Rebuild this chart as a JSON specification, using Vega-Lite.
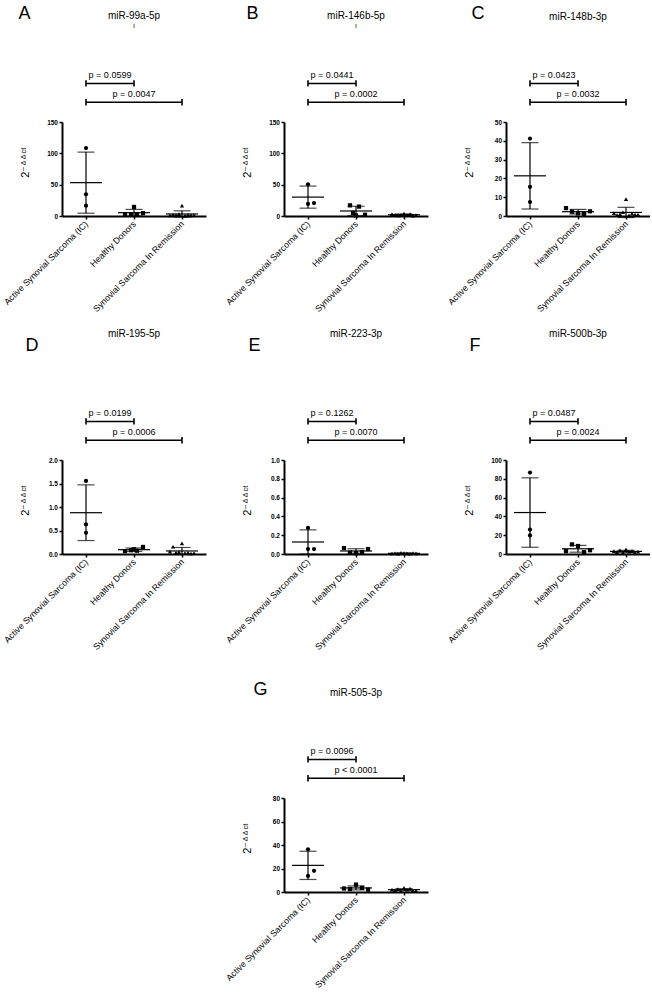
{
  "$schema": "https://vega.github.io/schema/vega-lite/v6.json",
  "background": "white",
  "padding": {"left": 2, "top": 4, "right": 0, "bottom": 0},
  "columns": 3,
  "bounds": "flush",
  "spacing": {"row": 244, "column": 78},
  "datasets": {
    "pts": [
      {"panel": "A", "group": "Active Synovial Sarcoma (IC)", "value": 108.5, "slot": 0},
      {"panel": "A", "group": "Active Synovial Sarcoma (IC)", "value": 34.6, "slot": 0},
      {"panel": "A", "group": "Active Synovial Sarcoma (IC)", "value": 16.5, "slot": 0},
      {"panel": "A", "group": "Healthy Donors", "value": 14.5, "slot": 0},
      {"panel": "A", "group": "Healthy Donors", "value": 2.5, "slot": -3},
      {"panel": "A", "group": "Healthy Donors", "value": 2.0, "slot": -1},
      {"panel": "A", "group": "Healthy Donors", "value": 3.0, "slot": 1},
      {"panel": "A", "group": "Healthy Donors", "value": 4.5, "slot": 3},
      {"panel": "A", "group": "Synovial Sarcoma In Remission", "value": 16.5, "slot": 0},
      {"panel": "A", "group": "Synovial Sarcoma In Remission", "value": 1.0, "slot": -4},
      {"panel": "A", "group": "Synovial Sarcoma In Remission", "value": 2.0, "slot": -3},
      {"panel": "A", "group": "Synovial Sarcoma In Remission", "value": 1.5, "slot": -2},
      {"panel": "A", "group": "Synovial Sarcoma In Remission", "value": 3.0, "slot": -1},
      {"panel": "A", "group": "Synovial Sarcoma In Remission", "value": 0.5, "slot": 1},
      {"panel": "A", "group": "Synovial Sarcoma In Remission", "value": 2.0, "slot": 2},
      {"panel": "A", "group": "Synovial Sarcoma In Remission", "value": 1.0, "slot": 3},
      {"panel": "A", "group": "Synovial Sarcoma In Remission", "value": 1.5, "slot": 4},

      {"panel": "B", "group": "Active Synovial Sarcoma (IC)", "value": 50.5, "slot": 0},
      {"panel": "B", "group": "Active Synovial Sarcoma (IC)", "value": 19.2, "slot": 0},
      {"panel": "B", "group": "Active Synovial Sarcoma (IC)", "value": 20.7, "slot": 2},
      {"panel": "B", "group": "Healthy Donors", "value": 17, "slot": -2},
      {"panel": "B", "group": "Healthy Donors", "value": 15, "slot": 1},
      {"panel": "B", "group": "Healthy Donors", "value": 5, "slot": -1},
      {"panel": "B", "group": "Healthy Donors", "value": 2, "slot": 3},
      {"panel": "B", "group": "Healthy Donors", "value": 1, "slot": 0},
      {"panel": "B", "group": "Synovial Sarcoma In Remission", "value": 4, "slot": 0},
      {"panel": "B", "group": "Synovial Sarcoma In Remission", "value": 3, "slot": -4},
      {"panel": "B", "group": "Synovial Sarcoma In Remission", "value": 2, "slot": -3},
      {"panel": "B", "group": "Synovial Sarcoma In Remission", "value": 1, "slot": -2},
      {"panel": "B", "group": "Synovial Sarcoma In Remission", "value": 2, "slot": -1},
      {"panel": "B", "group": "Synovial Sarcoma In Remission", "value": 1.5, "slot": 1},
      {"panel": "B", "group": "Synovial Sarcoma In Remission", "value": 3, "slot": 2},
      {"panel": "B", "group": "Synovial Sarcoma In Remission", "value": 0.5, "slot": 3},
      {"panel": "B", "group": "Synovial Sarcoma In Remission", "value": 1.5, "slot": 4},

      {"panel": "C", "group": "Active Synovial Sarcoma (IC)", "value": 41.2, "slot": 0},
      {"panel": "C", "group": "Active Synovial Sarcoma (IC)", "value": 15.5, "slot": 0},
      {"panel": "C", "group": "Active Synovial Sarcoma (IC)", "value": 7.4, "slot": 0},
      {"panel": "C", "group": "Healthy Donors", "value": 4.2, "slot": -4},
      {"panel": "C", "group": "Healthy Donors", "value": 2.3, "slot": -2},
      {"panel": "C", "group": "Healthy Donors", "value": 1.4, "slot": 0},
      {"panel": "C", "group": "Healthy Donors", "value": 1.1, "slot": 2},
      {"panel": "C", "group": "Healthy Donors", "value": 2.5, "slot": 4},
      {"panel": "C", "group": "Synovial Sarcoma In Remission", "value": 9.0, "slot": 0},
      {"panel": "C", "group": "Synovial Sarcoma In Remission", "value": 1.5, "slot": -4},
      {"panel": "C", "group": "Synovial Sarcoma In Remission", "value": 0.5, "slot": -3},
      {"panel": "C", "group": "Synovial Sarcoma In Remission", "value": 1.0, "slot": -2},
      {"panel": "C", "group": "Synovial Sarcoma In Remission", "value": 2.0, "slot": -1},
      {"panel": "C", "group": "Synovial Sarcoma In Remission", "value": 0.3, "slot": 1},
      {"panel": "C", "group": "Synovial Sarcoma In Remission", "value": 1.2, "slot": 2},
      {"panel": "C", "group": "Synovial Sarcoma In Remission", "value": 0.8, "slot": 3},
      {"panel": "C", "group": "Synovial Sarcoma In Remission", "value": 0.8, "slot": 4},

      {"panel": "D", "group": "Active Synovial Sarcoma (IC)", "value": 1.555, "slot": 0},
      {"panel": "D", "group": "Active Synovial Sarcoma (IC)", "value": 0.629, "slot": 0},
      {"panel": "D", "group": "Active Synovial Sarcoma (IC)", "value": 0.452, "slot": 0},
      {"panel": "D", "group": "Healthy Donors", "value": 0.15, "slot": 3},
      {"panel": "D", "group": "Healthy Donors", "value": 0.10, "slot": 0},
      {"panel": "D", "group": "Healthy Donors", "value": 0.06, "slot": -3},
      {"panel": "D", "group": "Healthy Donors", "value": 0.08, "slot": -1},
      {"panel": "D", "group": "Healthy Donors", "value": 0.07, "slot": 1},
      {"panel": "D", "group": "Synovial Sarcoma In Remission", "value": 0.226, "slot": 0},
      {"panel": "D", "group": "Synovial Sarcoma In Remission", "value": 0.155, "slot": -3},
      {"panel": "D", "group": "Synovial Sarcoma In Remission", "value": 0.05, "slot": -4},
      {"panel": "D", "group": "Synovial Sarcoma In Remission", "value": 0.03, "slot": -2},
      {"panel": "D", "group": "Synovial Sarcoma In Remission", "value": 0.04, "slot": -1},
      {"panel": "D", "group": "Synovial Sarcoma In Remission", "value": 0.02, "slot": 1},
      {"panel": "D", "group": "Synovial Sarcoma In Remission", "value": 0.03, "slot": 2},
      {"panel": "D", "group": "Synovial Sarcoma In Remission", "value": 0.01, "slot": 3},
      {"panel": "D", "group": "Synovial Sarcoma In Remission", "value": 0.02, "slot": 4},

      {"panel": "E", "group": "Active Synovial Sarcoma (IC)", "value": 0.277, "slot": 0},
      {"panel": "E", "group": "Active Synovial Sarcoma (IC)", "value": 0.053, "slot": 0},
      {"panel": "E", "group": "Active Synovial Sarcoma (IC)", "value": 0.053, "slot": 2},
      {"panel": "E", "group": "Healthy Donors", "value": 0.063, "slot": -4},
      {"panel": "E", "group": "Healthy Donors", "value": 0.015, "slot": -2},
      {"panel": "E", "group": "Healthy Donors", "value": 0.010, "slot": 0},
      {"panel": "E", "group": "Healthy Donors", "value": 0.020, "slot": 2},
      {"panel": "E", "group": "Healthy Donors", "value": 0.053, "slot": 4},
      {"panel": "E", "group": "Synovial Sarcoma In Remission", "value": 0.010, "slot": 0},
      {"panel": "E", "group": "Synovial Sarcoma In Remission", "value": 0.005, "slot": -4},
      {"panel": "E", "group": "Synovial Sarcoma In Remission", "value": 0.008, "slot": -3},
      {"panel": "E", "group": "Synovial Sarcoma In Remission", "value": 0.004, "slot": -2},
      {"panel": "E", "group": "Synovial Sarcoma In Remission", "value": 0.012, "slot": -1},
      {"panel": "E", "group": "Synovial Sarcoma In Remission", "value": 0.006, "slot": 1},
      {"panel": "E", "group": "Synovial Sarcoma In Remission", "value": 0.003, "slot": 2},
      {"panel": "E", "group": "Synovial Sarcoma In Remission", "value": 0.009, "slot": 3},
      {"panel": "E", "group": "Synovial Sarcoma In Remission", "value": 0.007, "slot": 4},

      {"panel": "F", "group": "Active Synovial Sarcoma (IC)", "value": 86.6, "slot": 0},
      {"panel": "F", "group": "Active Synovial Sarcoma (IC)", "value": 26.0, "slot": 0},
      {"panel": "F", "group": "Active Synovial Sarcoma (IC)", "value": 19.7, "slot": 0},
      {"panel": "F", "group": "Healthy Donors", "value": 10.2, "slot": -2},
      {"panel": "F", "group": "Healthy Donors", "value": 8.5, "slot": 0},
      {"panel": "F", "group": "Healthy Donors", "value": 3.0, "slot": -4},
      {"panel": "F", "group": "Healthy Donors", "value": 2.0, "slot": 2},
      {"panel": "F", "group": "Healthy Donors", "value": 4.0, "slot": 4},
      {"panel": "F", "group": "Synovial Sarcoma In Remission", "value": 5.0, "slot": 0},
      {"panel": "F", "group": "Synovial Sarcoma In Remission", "value": 3.0, "slot": -4},
      {"panel": "F", "group": "Synovial Sarcoma In Remission", "value": 2.0, "slot": -3},
      {"panel": "F", "group": "Synovial Sarcoma In Remission", "value": 4.0, "slot": -2},
      {"panel": "F", "group": "Synovial Sarcoma In Remission", "value": 1.5, "slot": -1},
      {"panel": "F", "group": "Synovial Sarcoma In Remission", "value": 2.5, "slot": 1},
      {"panel": "F", "group": "Synovial Sarcoma In Remission", "value": 3.0, "slot": 2},
      {"panel": "F", "group": "Synovial Sarcoma In Remission", "value": 1.5, "slot": 3},
      {"panel": "F", "group": "Synovial Sarcoma In Remission", "value": 2.5, "slot": 4},

      {"panel": "G", "group": "Active Synovial Sarcoma (IC)", "value": 36.3, "slot": 0},
      {"panel": "G", "group": "Active Synovial Sarcoma (IC)", "value": 18.0, "slot": 2},
      {"panel": "G", "group": "Active Synovial Sarcoma (IC)", "value": 13.7, "slot": 0},
      {"panel": "G", "group": "Healthy Donors", "value": 6.3, "slot": 0},
      {"panel": "G", "group": "Healthy Donors", "value": 3.0, "slot": -4},
      {"panel": "G", "group": "Healthy Donors", "value": 2.5, "slot": -2},
      {"panel": "G", "group": "Healthy Donors", "value": 3.5, "slot": 2},
      {"panel": "G", "group": "Healthy Donors", "value": 2.0, "slot": 4},
      {"panel": "G", "group": "Synovial Sarcoma In Remission", "value": 3.5, "slot": 0},
      {"panel": "G", "group": "Synovial Sarcoma In Remission", "value": 2.0, "slot": -4},
      {"panel": "G", "group": "Synovial Sarcoma In Remission", "value": 1.5, "slot": -3},
      {"panel": "G", "group": "Synovial Sarcoma In Remission", "value": 2.5, "slot": -2},
      {"panel": "G", "group": "Synovial Sarcoma In Remission", "value": 1.0, "slot": -1},
      {"panel": "G", "group": "Synovial Sarcoma In Remission", "value": 2.0, "slot": 1},
      {"panel": "G", "group": "Synovial Sarcoma In Remission", "value": 3.0, "slot": 2},
      {"panel": "G", "group": "Synovial Sarcoma In Remission", "value": 1.5, "slot": 3},
      {"panel": "G", "group": "Synovial Sarcoma In Remission", "value": 1.0, "slot": 4}
    ],
    "brk": [
      {"panel": "A", "kind": "near", "from": "Active Synovial Sarcoma (IC)", "to": "Healthy Donors", "level": 211.5, "label": "p = 0.0599"},
      {"panel": "A", "kind": "far", "from": "Active Synovial Sarcoma (IC)", "to": "Synovial Sarcoma In Remission", "level": 181.5, "label": "p = 0.0047"},
      {"panel": "B", "kind": "near", "from": "Active Synovial Sarcoma (IC)", "to": "Healthy Donors", "level": 211.5, "label": "p = 0.0441"},
      {"panel": "B", "kind": "far", "from": "Active Synovial Sarcoma (IC)", "to": "Synovial Sarcoma In Remission", "level": 181.5, "label": "p = 0.0002"},
      {"panel": "C", "kind": "near", "from": "Active Synovial Sarcoma (IC)", "to": "Healthy Donors", "level": 70.5, "label": "p = 0.0423"},
      {"panel": "C", "kind": "far", "from": "Active Synovial Sarcoma (IC)", "to": "Synovial Sarcoma In Remission", "level": 60.5, "label": "p = 0.0032"},
      {"panel": "D", "kind": "near", "from": "Active Synovial Sarcoma (IC)", "to": "Healthy Donors", "level": 2.82, "label": "p = 0.0199"},
      {"panel": "D", "kind": "far", "from": "Active Synovial Sarcoma (IC)", "to": "Synovial Sarcoma In Remission", "level": 2.42, "label": "p = 0.0006"},
      {"panel": "E", "kind": "near", "from": "Active Synovial Sarcoma (IC)", "to": "Healthy Donors", "level": 1.41, "label": "p = 0.1262"},
      {"panel": "E", "kind": "far", "from": "Active Synovial Sarcoma (IC)", "to": "Synovial Sarcoma In Remission", "level": 1.21, "label": "p = 0.0070"},
      {"panel": "F", "kind": "near", "from": "Active Synovial Sarcoma (IC)", "to": "Healthy Donors", "level": 141, "label": "p = 0.0487"},
      {"panel": "F", "kind": "far", "from": "Active Synovial Sarcoma (IC)", "to": "Synovial Sarcoma In Remission", "level": 121, "label": "p = 0.0024"},
      {"panel": "G", "kind": "near", "from": "Active Synovial Sarcoma (IC)", "to": "Healthy Donors", "level": 112.8, "label": "p = 0.0096"},
      {"panel": "G", "kind": "far", "from": "Active Synovial Sarcoma (IC)", "to": "Synovial Sarcoma In Remission", "level": 96.8, "label": "p < 0.0001"}
    ]
  },
  "concat": [
    {
      "width": 144, "height": 94,
      "title": {"text": "miR-99a-5p", "subtitle": "ı", "offset": -24},
      "layer": [
        {"data": {"name": "pts"}, "transform": [{"filter": "datum.panel === 'A'"}],
         "mark": {"type": "point"},
         "encoding": {
           "x": {"field": "group", "type": "nominal", "scale": {"type": "point", "padding": 0.5, "domain": ["Active Synovial Sarcoma (IC)", "Healthy Donors", "Synovial Sarcoma In Remission"]}, "axis": {"title": "A", "titleX": -44, "titleY": -197.5}},
           "xOffset": {"field": "slot", "type": "quantitative", "scale": {"domain": [-4, 4], "range": [-12, 12]}},
           "y": {"field": "value", "type": "quantitative", "title": "2⁻ᐞᐞᶜᵗ", "scale": {"domain": [0, 150], "nice": false}, "axis": {"values": [0, 50, 100, 150], "tickCount": 10}},
           "shape": {"field": "group", "type": "nominal", "scale": {"domain": ["Active Synovial Sarcoma (IC)", "Healthy Donors", "Synovial Sarcoma In Remission"], "range": ["circle", "square", "triangle-up"]}, "legend": null}
         }},
        {"data": {"name": "pts"}, "transform": [{"filter": "datum.panel === 'A'"}],
         "mark": {"type": "errorbar", "extent": "stdev", "thickness": 1.2, "ticks": {"size": 17}, "color": "black"},
         "encoding": {"x": {"field": "group", "type": "nominal"}, "y": {"field": "value", "type": "quantitative", "title": "2⁻ᐞᐞᶜᵗ", "axis": {"values": [0, 50, 100, 150], "tickCount": 10}}}},
        {"data": {"name": "pts"}, "transform": [{"filter": "datum.panel === 'A'"}],
         "mark": {"type": "tick", "size": 32, "thickness": 1.2},
         "encoding": {"x": {"field": "group", "type": "nominal"}, "y": {"aggregate": "mean", "field": "value", "type": "quantitative"}}},
        {"data": {"name": "brk"}, "transform": [{"filter": "datum.panel === 'A'"}],
         "mark": {"type": "rule", "strokeWidth": 1.6},
         "encoding": {"x": {"field": "from", "type": "nominal"}, "x2": {"field": "to"}, "y": {"field": "level", "type": "quantitative"}}},
        {"data": {"name": "brk"}, "transform": [{"filter": "datum.panel === 'A'"}, {"fold": ["from", "to"], "as": ["end", "grp"]}],
         "mark": {"type": "point", "shape": "M0,-1L0,1", "size": 40, "filled": false, "strokeWidth": 1.6},
         "encoding": {"x": {"field": "grp", "type": "nominal"}, "y": {"field": "level", "type": "quantitative"}}},
        {"data": {"name": "brk"}, "transform": [{"filter": "datum.panel === 'A' && datum.kind === 'near'"}],
         "mark": {"type": "text", "dx": 24, "dy": -3},
         "encoding": {"x": {"field": "from", "type": "nominal"}, "y": {"field": "level", "type": "quantitative"}, "text": {"field": "label"}}},
        {"data": {"name": "brk"}, "transform": [{"filter": "datum.panel === 'A' && datum.kind === 'far'"}],
         "mark": {"type": "text", "dx": 48, "dy": -3},
         "encoding": {"x": {"field": "from", "type": "nominal"}, "y": {"field": "level", "type": "quantitative"}, "text": {"field": "label"}}}
      ]
    },
    {
      "width": 144, "height": 94,
      "title": {"text": "miR-146b-5p", "subtitle": "ı", "offset": -24},
      "layer": [
        {"data": {"name": "pts"}, "transform": [{"filter": "datum.panel === 'B'"}],
         "mark": {"type": "point"},
         "encoding": {
           "x": {"field": "group", "type": "nominal", "scale": {"type": "point", "padding": 0.5, "domain": ["Active Synovial Sarcoma (IC)", "Healthy Donors", "Synovial Sarcoma In Remission"]}, "axis": {"title": "B", "titleX": -38, "titleY": -197.5}},
           "xOffset": {"field": "slot", "type": "quantitative", "scale": {"domain": [-4, 4], "range": [-12, 12]}},
           "y": {"field": "value", "type": "quantitative", "title": "2⁻ᐞᐞᶜᵗ", "scale": {"domain": [0, 150], "nice": false}, "axis": {"values": [0, 50, 100, 150], "tickCount": 10}},
           "shape": {"field": "group", "type": "nominal", "scale": {"domain": ["Active Synovial Sarcoma (IC)", "Healthy Donors", "Synovial Sarcoma In Remission"], "range": ["circle", "square", "triangle-up"]}, "legend": null}
         }},
        {"data": {"name": "pts"}, "transform": [{"filter": "datum.panel === 'B'"}],
         "mark": {"type": "errorbar", "extent": "stdev", "thickness": 1.2, "ticks": {"size": 17}, "color": "black"},
         "encoding": {"x": {"field": "group", "type": "nominal"}, "y": {"field": "value", "type": "quantitative", "title": "2⁻ᐞᐞᶜᵗ", "axis": {"values": [0, 50, 100, 150], "tickCount": 10}}}},
        {"data": {"name": "pts"}, "transform": [{"filter": "datum.panel === 'B'"}],
         "mark": {"type": "tick", "size": 32, "thickness": 1.2},
         "encoding": {"x": {"field": "group", "type": "nominal"}, "y": {"aggregate": "mean", "field": "value", "type": "quantitative"}}},
        {"data": {"name": "brk"}, "transform": [{"filter": "datum.panel === 'B'"}],
         "mark": {"type": "rule", "strokeWidth": 1.6},
         "encoding": {"x": {"field": "from", "type": "nominal"}, "x2": {"field": "to"}, "y": {"field": "level", "type": "quantitative"}}},
        {"data": {"name": "brk"}, "transform": [{"filter": "datum.panel === 'B'"}, {"fold": ["from", "to"], "as": ["end", "grp"]}],
         "mark": {"type": "point", "shape": "M0,-1L0,1", "size": 40, "filled": false, "strokeWidth": 1.6},
         "encoding": {"x": {"field": "grp", "type": "nominal"}, "y": {"field": "level", "type": "quantitative"}}},
        {"data": {"name": "brk"}, "transform": [{"filter": "datum.panel === 'B' && datum.kind === 'near'"}],
         "mark": {"type": "text", "dx": 24, "dy": -3},
         "encoding": {"x": {"field": "from", "type": "nominal"}, "y": {"field": "level", "type": "quantitative"}, "text": {"field": "label"}}},
        {"data": {"name": "brk"}, "transform": [{"filter": "datum.panel === 'B' && datum.kind === 'far'"}],
         "mark": {"type": "text", "dx": 48, "dy": -3},
         "encoding": {"x": {"field": "from", "type": "nominal"}, "y": {"field": "level", "type": "quantitative"}, "text": {"field": "label"}}}
      ]
    },
    {
      "width": 144, "height": 94,
      "title": {"text": "miR-148b-3p", "offset": -17},
      "layer": [
        {"data": {"name": "pts"}, "transform": [{"filter": "datum.panel === 'C'"}],
         "mark": {"type": "point"},
         "encoding": {
           "x": {"field": "group", "type": "nominal", "scale": {"type": "point", "padding": 0.5, "domain": ["Active Synovial Sarcoma (IC)", "Healthy Donors", "Synovial Sarcoma In Remission"]}, "axis": {"title": "C", "titleX": -35, "titleY": -197.5}},
           "xOffset": {"field": "slot", "type": "quantitative", "scale": {"domain": [-4, 4], "range": [-12, 12]}},
           "y": {"field": "value", "type": "quantitative", "title": "2⁻ᐞᐞᶜᵗ", "scale": {"domain": [0, 50], "nice": false}, "axis": {"values": [0, 10, 20, 30, 40, 50], "tickCount": 10}},
           "shape": {"field": "group", "type": "nominal", "scale": {"domain": ["Active Synovial Sarcoma (IC)", "Healthy Donors", "Synovial Sarcoma In Remission"], "range": ["circle", "square", "triangle-up"]}, "legend": null}
         }},
        {"data": {"name": "pts"}, "transform": [{"filter": "datum.panel === 'C'"}],
         "mark": {"type": "errorbar", "extent": "stdev", "thickness": 1.2, "ticks": {"size": 17}, "color": "black"},
         "encoding": {"x": {"field": "group", "type": "nominal"}, "y": {"field": "value", "type": "quantitative", "title": "2⁻ᐞᐞᶜᵗ", "axis": {"values": [0, 10, 20, 30, 40, 50], "tickCount": 10}}}},
        {"data": {"name": "pts"}, "transform": [{"filter": "datum.panel === 'C'"}],
         "mark": {"type": "tick", "size": 32, "thickness": 1.2},
         "encoding": {"x": {"field": "group", "type": "nominal"}, "y": {"aggregate": "mean", "field": "value", "type": "quantitative"}}},
        {"data": {"name": "brk"}, "transform": [{"filter": "datum.panel === 'C'"}],
         "mark": {"type": "rule", "strokeWidth": 1.6},
         "encoding": {"x": {"field": "from", "type": "nominal"}, "x2": {"field": "to"}, "y": {"field": "level", "type": "quantitative"}}},
        {"data": {"name": "brk"}, "transform": [{"filter": "datum.panel === 'C'"}, {"fold": ["from", "to"], "as": ["end", "grp"]}],
         "mark": {"type": "point", "shape": "M0,-1L0,1", "size": 40, "filled": false, "strokeWidth": 1.6},
         "encoding": {"x": {"field": "grp", "type": "nominal"}, "y": {"field": "level", "type": "quantitative"}}},
        {"data": {"name": "brk"}, "transform": [{"filter": "datum.panel === 'C' && datum.kind === 'near'"}],
         "mark": {"type": "text", "dx": 24, "dy": -3},
         "encoding": {"x": {"field": "from", "type": "nominal"}, "y": {"field": "level", "type": "quantitative"}, "text": {"field": "label"}}},
        {"data": {"name": "brk"}, "transform": [{"filter": "datum.panel === 'C' && datum.kind === 'far'"}],
         "mark": {"type": "text", "dx": 48, "dy": -3},
         "encoding": {"x": {"field": "from", "type": "nominal"}, "y": {"field": "level", "type": "quantitative"}, "text": {"field": "label"}}}
      ]
    },
    {
      "width": 144, "height": 94,
      "title": {"text": "miR-195-5p", "offset": -2.5},
      "layer": [
        {"data": {"name": "pts"}, "transform": [{"filter": "datum.panel === 'D'"}],
         "mark": {"type": "point"},
         "encoding": {
           "x": {"field": "group", "type": "nominal", "scale": {"type": "point", "padding": 0.5, "domain": ["Active Synovial Sarcoma (IC)", "Healthy Donors", "Synovial Sarcoma In Remission"]}, "axis": {"title": "D", "titleX": -37, "titleY": -204}},
           "xOffset": {"field": "slot", "type": "quantitative", "scale": {"domain": [-4, 4], "range": [-12, 12]}},
           "y": {"field": "value", "type": "quantitative", "title": "2⁻ᐞᐞᶜᵗ", "scale": {"domain": [0, 2], "nice": false}, "axis": {"values": [0, 0.5, 1, 1.5, 2], "format": ".1f", "tickCount": 10}},
           "shape": {"field": "group", "type": "nominal", "scale": {"domain": ["Active Synovial Sarcoma (IC)", "Healthy Donors", "Synovial Sarcoma In Remission"], "range": ["circle", "square", "triangle-up"]}, "legend": null}
         }},
        {"data": {"name": "pts"}, "transform": [{"filter": "datum.panel === 'D'"}],
         "mark": {"type": "errorbar", "extent": "stdev", "thickness": 1.2, "ticks": {"size": 17}, "color": "black"},
         "encoding": {"x": {"field": "group", "type": "nominal"}, "y": {"field": "value", "type": "quantitative", "title": "2⁻ᐞᐞᶜᵗ", "axis": {"values": [0, 0.5, 1, 1.5, 2], "format": ".1f", "tickCount": 10}}}},
        {"data": {"name": "pts"}, "transform": [{"filter": "datum.panel === 'D'"}],
         "mark": {"type": "tick", "size": 32, "thickness": 1.2},
         "encoding": {"x": {"field": "group", "type": "nominal"}, "y": {"aggregate": "mean", "field": "value", "type": "quantitative"}}},
        {"data": {"name": "brk"}, "transform": [{"filter": "datum.panel === 'D'"}],
         "mark": {"type": "rule", "strokeWidth": 1.6},
         "encoding": {"x": {"field": "from", "type": "nominal"}, "x2": {"field": "to"}, "y": {"field": "level", "type": "quantitative"}}},
        {"data": {"name": "brk"}, "transform": [{"filter": "datum.panel === 'D'"}, {"fold": ["from", "to"], "as": ["end", "grp"]}],
         "mark": {"type": "point", "shape": "M0,-1L0,1", "size": 40, "filled": false, "strokeWidth": 1.6},
         "encoding": {"x": {"field": "grp", "type": "nominal"}, "y": {"field": "level", "type": "quantitative"}}},
        {"data": {"name": "brk"}, "transform": [{"filter": "datum.panel === 'D' && datum.kind === 'near'"}],
         "mark": {"type": "text", "dx": 24, "dy": -3},
         "encoding": {"x": {"field": "from", "type": "nominal"}, "y": {"field": "level", "type": "quantitative"}, "text": {"field": "label"}}},
        {"data": {"name": "brk"}, "transform": [{"filter": "datum.panel === 'D' && datum.kind === 'far'"}],
         "mark": {"type": "text", "dx": 48, "dy": -3},
         "encoding": {"x": {"field": "from", "type": "nominal"}, "y": {"field": "level", "type": "quantitative"}, "text": {"field": "label"}}}
      ]
    },
    {
      "width": 144, "height": 94,
      "title": {"text": "miR-223-3p", "offset": -2.5},
      "layer": [
        {"data": {"name": "pts"}, "transform": [{"filter": "datum.panel === 'E'"}],
         "mark": {"type": "point"},
         "encoding": {
           "x": {"field": "group", "type": "nominal", "scale": {"type": "point", "padding": 0.5, "domain": ["Active Synovial Sarcoma (IC)", "Healthy Donors", "Synovial Sarcoma In Remission"]}, "axis": {"title": "E", "titleX": -36, "titleY": -204}},
           "xOffset": {"field": "slot", "type": "quantitative", "scale": {"domain": [-4, 4], "range": [-12, 12]}},
           "y": {"field": "value", "type": "quantitative", "title": "2⁻ᐞᐞᶜᵗ", "scale": {"domain": [0, 1], "nice": false}, "axis": {"values": [0, 0.2, 0.4, 0.6, 0.8, 1], "format": ".1f", "tickCount": 10}},
           "shape": {"field": "group", "type": "nominal", "scale": {"domain": ["Active Synovial Sarcoma (IC)", "Healthy Donors", "Synovial Sarcoma In Remission"], "range": ["circle", "square", "triangle-up"]}, "legend": null}
         }},
        {"data": {"name": "pts"}, "transform": [{"filter": "datum.panel === 'E'"}],
         "mark": {"type": "errorbar", "extent": "stdev", "thickness": 1.2, "ticks": {"size": 17}, "color": "black"},
         "encoding": {"x": {"field": "group", "type": "nominal"}, "y": {"field": "value", "type": "quantitative", "title": "2⁻ᐞᐞᶜᵗ", "axis": {"values": [0, 0.2, 0.4, 0.6, 0.8, 1], "format": ".1f", "tickCount": 10}}}},
        {"data": {"name": "pts"}, "transform": [{"filter": "datum.panel === 'E'"}],
         "mark": {"type": "tick", "size": 32, "thickness": 1.2},
         "encoding": {"x": {"field": "group", "type": "nominal"}, "y": {"aggregate": "mean", "field": "value", "type": "quantitative"}}},
        {"data": {"name": "brk"}, "transform": [{"filter": "datum.panel === 'E'"}],
         "mark": {"type": "rule", "strokeWidth": 1.6},
         "encoding": {"x": {"field": "from", "type": "nominal"}, "x2": {"field": "to"}, "y": {"field": "level", "type": "quantitative"}}},
        {"data": {"name": "brk"}, "transform": [{"filter": "datum.panel === 'E'"}, {"fold": ["from", "to"], "as": ["end", "grp"]}],
         "mark": {"type": "point", "shape": "M0,-1L0,1", "size": 40, "filled": false, "strokeWidth": 1.6},
         "encoding": {"x": {"field": "grp", "type": "nominal"}, "y": {"field": "level", "type": "quantitative"}}},
        {"data": {"name": "brk"}, "transform": [{"filter": "datum.panel === 'E' && datum.kind === 'near'"}],
         "mark": {"type": "text", "dx": 24, "dy": -3},
         "encoding": {"x": {"field": "from", "type": "nominal"}, "y": {"field": "level", "type": "quantitative"}, "text": {"field": "label"}}},
        {"data": {"name": "brk"}, "transform": [{"filter": "datum.panel === 'E' && datum.kind === 'far'"}],
         "mark": {"type": "text", "dx": 48, "dy": -3},
         "encoding": {"x": {"field": "from", "type": "nominal"}, "y": {"field": "level", "type": "quantitative"}, "text": {"field": "label"}}}
      ]
    },
    {
      "width": 144, "height": 94,
      "title": {"text": "miR-500b-3p", "offset": -2.5},
      "layer": [
        {"data": {"name": "pts"}, "transform": [{"filter": "datum.panel === 'F'"}],
         "mark": {"type": "point"},
         "encoding": {
           "x": {"field": "group", "type": "nominal", "scale": {"type": "point", "padding": 0.5, "domain": ["Active Synovial Sarcoma (IC)", "Healthy Donors", "Synovial Sarcoma In Remission"]}, "axis": {"title": "F", "titleX": -37, "titleY": -204}},
           "xOffset": {"field": "slot", "type": "quantitative", "scale": {"domain": [-4, 4], "range": [-12, 12]}},
           "y": {"field": "value", "type": "quantitative", "title": "2⁻ᐞᐞᶜᵗ", "scale": {"domain": [0, 100], "nice": false}, "axis": {"values": [0, 20, 40, 60, 80, 100], "tickCount": 10}},
           "shape": {"field": "group", "type": "nominal", "scale": {"domain": ["Active Synovial Sarcoma (IC)", "Healthy Donors", "Synovial Sarcoma In Remission"], "range": ["circle", "square", "triangle-up"]}, "legend": null}
         }},
        {"data": {"name": "pts"}, "transform": [{"filter": "datum.panel === 'F'"}],
         "mark": {"type": "errorbar", "extent": "stdev", "thickness": 1.2, "ticks": {"size": 17}, "color": "black"},
         "encoding": {"x": {"field": "group", "type": "nominal"}, "y": {"field": "value", "type": "quantitative", "title": "2⁻ᐞᐞᶜᵗ", "axis": {"values": [0, 20, 40, 60, 80, 100], "tickCount": 10}}}},
        {"data": {"name": "pts"}, "transform": [{"filter": "datum.panel === 'F'"}],
         "mark": {"type": "tick", "size": 32, "thickness": 1.2},
         "encoding": {"x": {"field": "group", "type": "nominal"}, "y": {"aggregate": "mean", "field": "value", "type": "quantitative"}}},
        {"data": {"name": "brk"}, "transform": [{"filter": "datum.panel === 'F'"}],
         "mark": {"type": "rule", "strokeWidth": 1.6},
         "encoding": {"x": {"field": "from", "type": "nominal"}, "x2": {"field": "to"}, "y": {"field": "level", "type": "quantitative"}}},
        {"data": {"name": "brk"}, "transform": [{"filter": "datum.panel === 'F'"}, {"fold": ["from", "to"], "as": ["end", "grp"]}],
         "mark": {"type": "point", "shape": "M0,-1L0,1", "size": 40, "filled": false, "strokeWidth": 1.6},
         "encoding": {"x": {"field": "grp", "type": "nominal"}, "y": {"field": "level", "type": "quantitative"}}},
        {"data": {"name": "brk"}, "transform": [{"filter": "datum.panel === 'F' && datum.kind === 'near'"}],
         "mark": {"type": "text", "dx": 24, "dy": -3},
         "encoding": {"x": {"field": "from", "type": "nominal"}, "y": {"field": "level", "type": "quantitative"}, "text": {"field": "label"}}},
        {"data": {"name": "brk"}, "transform": [{"filter": "datum.panel === 'F' && datum.kind === 'far'"}],
         "mark": {"type": "text", "dx": 48, "dy": -3},
         "encoding": {"x": {"field": "from", "type": "nominal"}, "y": {"field": "level", "type": "quantitative"}, "text": {"field": "label"}}}
      ]
    },
    {
      "width": 144, "height": 94,
      "data": {"values": []},
      "mark": {"type": "point", "opacity": 0},
      "encoding": {}
    },
    {
      "width": 144, "height": 94,
      "title": {"text": "miR-505-3p", "offset": -17},
      "layer": [
        {"data": {"name": "pts"}, "transform": [{"filter": "datum.panel === 'G'"}],
         "mark": {"type": "point"},
         "encoding": {
           "x": {"field": "group", "type": "nominal", "scale": {"type": "point", "padding": 0.5, "domain": ["Active Synovial Sarcoma (IC)", "Healthy Donors", "Synovial Sarcoma In Remission"]}, "axis": {"title": "G", "titleX": -31, "titleY": -197.5}},
           "xOffset": {"field": "slot", "type": "quantitative", "scale": {"domain": [-4, 4], "range": [-12, 12]}},
           "y": {"field": "value", "type": "quantitative", "title": "2⁻ᐞᐞᶜᵗ", "scale": {"domain": [0, 80], "nice": false}, "axis": {"values": [0, 20, 40, 60, 80], "tickCount": 10}},
           "shape": {"field": "group", "type": "nominal", "scale": {"domain": ["Active Synovial Sarcoma (IC)", "Healthy Donors", "Synovial Sarcoma In Remission"], "range": ["circle", "square", "triangle-up"]}, "legend": null}
         }},
        {"data": {"name": "pts"}, "transform": [{"filter": "datum.panel === 'G'"}],
         "mark": {"type": "errorbar", "extent": "stdev", "thickness": 1.2, "ticks": {"size": 17}, "color": "black"},
         "encoding": {"x": {"field": "group", "type": "nominal"}, "y": {"field": "value", "type": "quantitative", "title": "2⁻ᐞᐞᶜᵗ", "axis": {"values": [0, 20, 40, 60, 80], "tickCount": 10}}}},
        {"data": {"name": "pts"}, "transform": [{"filter": "datum.panel === 'G'"}],
         "mark": {"type": "tick", "size": 32, "thickness": 1.2},
         "encoding": {"x": {"field": "group", "type": "nominal"}, "y": {"aggregate": "mean", "field": "value", "type": "quantitative"}}},
        {"data": {"name": "brk"}, "transform": [{"filter": "datum.panel === 'G'"}],
         "mark": {"type": "rule", "strokeWidth": 1.6},
         "encoding": {"x": {"field": "from", "type": "nominal"}, "x2": {"field": "to"}, "y": {"field": "level", "type": "quantitative"}}},
        {"data": {"name": "brk"}, "transform": [{"filter": "datum.panel === 'G'"}, {"fold": ["from", "to"], "as": ["end", "grp"]}],
         "mark": {"type": "point", "shape": "M0,-1L0,1", "size": 40, "filled": false, "strokeWidth": 1.6},
         "encoding": {"x": {"field": "grp", "type": "nominal"}, "y": {"field": "level", "type": "quantitative"}}},
        {"data": {"name": "brk"}, "transform": [{"filter": "datum.panel === 'G' && datum.kind === 'near'"}],
         "mark": {"type": "text", "dx": 24, "dy": -3},
         "encoding": {"x": {"field": "from", "type": "nominal"}, "y": {"field": "level", "type": "quantitative"}, "text": {"field": "label"}}},
        {"data": {"name": "brk"}, "transform": [{"filter": "datum.panel === 'G' && datum.kind === 'far'"}],
         "mark": {"type": "text", "dx": 48, "dy": -3},
         "encoding": {"x": {"field": "from", "type": "nominal"}, "y": {"field": "level", "type": "quantitative"}, "text": {"field": "label"}}}
      ]
    }
  ],
  "config": {
    "font": "Liberation Sans",
    "view": {"stroke": null},
    "point": {"filled": true, "color": "black", "opacity": 1, "size": 18},
    "rule": {"color": "black"},
    "tick": {"color": "black"},
    "text": {"color": "black", "font": "Liberation Sans", "fontSize": 9, "baseline": "bottom", "align": "center"},
    "title": {"fontSize": 10, "fontWeight": "normal", "color": "black", "font": "Liberation Sans", "anchor": "middle", "frame": "group", "subtitleFontSize": 7, "subtitleColor": "black", "subtitleFont": "Liberation Sans", "subtitlePadding": 1},
    "axis": {"grid": false, "domainColor": "black", "tickColor": "black", "labelColor": "black", "titleColor": "black", "labelFont": "Liberation Sans", "titleFont": "Liberation Sans", "domainWidth": 2, "tickWidth": 1.5, "tickSize": 3, "labelOverlap": false, "labelFlush": false},
    "axisY": {"labelFontSize": 6.5, "labelFontWeight": "bold", "labelPadding": 1.5, "titleFontSize": 11, "titleFontWeight": "normal", "titleX": -32, "titleY": 40},
    "axisX": {"labelAngle": -45, "labelAlign": "right", "labelBaseline": "middle", "labelFontSize": 8.8, "labelPadding": 3, "labelLimit": 0, "titleFontSize": 18, "titleFontWeight": "normal", "titleAlign": "left", "titleBaseline": "alphabetic", "titleAngle": 0}
  }
}
